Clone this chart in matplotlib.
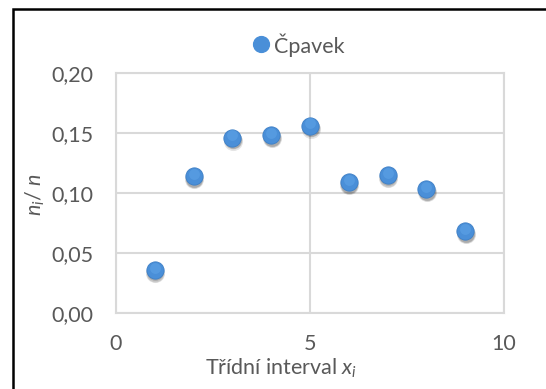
import matplotlib
matplotlib.use("Agg")
import matplotlib.pyplot as plt
from matplotlib.patches import Rectangle
from matplotlib.ticker import FuncFormatter
import matplotlib.transforms as mtrans

x_values = [1, 2, 3, 4, 5, 6, 7, 8, 9]
y_values = [0.036, 0.114, 0.146, 0.148, 0.156, 0.109, 0.115, 0.103, 0.068]
series_name = "Čpavek"
x_ticks = [0, 5, 10]
y_ticks = [0.00, 0.05, 0.10, 0.15, 0.20]

plt.rcParams['font.family'] = ['Lato', 'DejaVu Sans']
plt.rcParams['mathtext.fontset'] = 'custom'
plt.rcParams['mathtext.it'] = 'Lato:italic'
plt.rcParams['mathtext.rm'] = 'Lato'
txt = '#595959'
grid = '#d9d9d9'
blue = '#4a8fd8'
fs = 15.5

fig = plt.figure(figsize=(5.46, 3.89), dpi=100)
ax = fig.add_axes([116/546, 1-313/389, (504-116)/546, (313-72.7)/389])

# shadow
for off, a, s in [(2.2, 0.10, 190), (2.0, 0.12, 165), (1.8, 0.15, 145)]:
    ax.scatter(x_values, y_values, s=s, color='black', alpha=a, lw=0, zorder=2,
               transform=ax.transData + mtrans.ScaledTranslation(0.5/72, -off/72, fig.dpi_scale_trans))
ax.scatter(x_values, y_values, s=155, color=blue, edgecolors='#3d7fc6', linewidths=0.6, zorder=3)
ax.scatter(x_values, y_values, s=60, color='#5ea3e6', lw=0, alpha=0.6, zorder=4,
           transform=ax.transData + mtrans.ScaledTranslation(0, 1.5/72, fig.dpi_scale_trans))

ax.set_xlim(0, 10)
ax.set_ylim(0, 0.20)
ax.set_xticks(x_ticks)
ax.set_yticks(y_ticks)
ax.yaxis.set_major_formatter(FuncFormatter(lambda v, p: f"{v:.2f}".replace('.', ',')))
ax.tick_params(length=0, labelsize=fs, colors=txt)
ax.tick_params(axis='y', pad=16)
ax.tick_params(axis='x', pad=15)
ax.grid(True, color=grid, lw=1.5)
ax.set_axisbelow(True)
for sp in ax.spines.values():
    sp.set_color(grid)
    sp.set_linewidth(1.5)

fig.text(281/546, 1-368/389, r"Třídní interval $x_i$", ha='center', va='center',
         fontsize=fs, color=txt)
fig.text(35/546, 1-195/389, r"$n_i$/ $n$", ha='center', va='center',
         rotation=90, fontsize=fs, color=txt)

h = ax.scatter([], [], s=130, color=blue)
leg = fig.legend([h], [series_name], loc='center', bbox_to_anchor=(0.545, 1-45.7/389),
                 frameon=False, fontsize=fs, handletextpad=0.1, labelcolor=txt,
                 borderaxespad=0, handlelength=1, scatteryoffsets=[0.6])

fig.patches.append(Rectangle((13/546, -0.1), 1.2, 1-9/389+0.1, transform=fig.transFigure,
                             fill=False, edgecolor='black', lw=1.8))
fig.savefig("out.png", dpi=100)
